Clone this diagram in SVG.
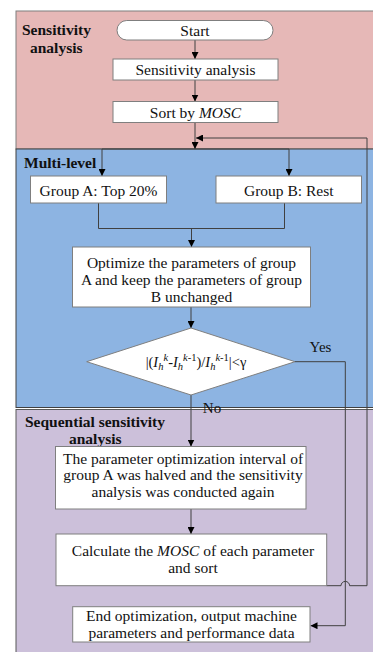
<svg xmlns="http://www.w3.org/2000/svg" width="373" height="652" viewBox="0 0 373 652" font-family="'Liberation Serif', 'DejaVu Serif', 'Times New Roman', serif">
<style>
text{font-family:"Liberation Serif","DejaVu Serif","Times New Roman",serif}
.box{fill:#fff;stroke:#7f7f7f;stroke-width:1}
.t{font-size:15.5px;fill:#111;text-anchor:middle}
.lbl{font-size:15.5px;font-weight:bold;fill:#111}
.c{fill:none;stroke:#404040;stroke-width:1}
.i{font-style:italic}
</style>
<defs>
<marker id="ah" viewBox="0 0 10 10" refX="10" refY="5" markerWidth="7" markerHeight="7" markerUnits="userSpaceOnUse" orient="auto">
<path d="M0,0 L10,5 L0,10 z" fill="#000"/>
</marker>
</defs>
<g id="panels">
<rect x="16" y="11" width="370" height="138" fill="#e6b8b7" stroke="#7f7f7f" stroke-width="1"/>
<rect x="16" y="149" width="370" height="258.5" fill="#8db4e2" stroke="#404040" stroke-width="1"/>
<rect x="16" y="409.5" width="370" height="250" fill="#ccc0da" stroke="#595959" stroke-width="1"/>
<text class="lbl" x="22" y="35">Sensitivity</text>
<text class="lbl" x="30" y="53">analysis</text>
<text class="lbl" x="24" y="168">Multi-level</text>
<text class="lbl" x="25" y="427">Sequential sensitivity</text>
<text class="lbl" x="69" y="443.5">analysis</text>
</g>
<g id="connectors">
<path class="c" d="M195,40 V59" marker-end="url(#ah)"/>
<path class="c" d="M195,80 V101.5" marker-end="url(#ah)"/>
<path class="c" d="M195,122.5 V149" marker-end="url(#ah)"/>
<path class="c" d="M102,149 H289"/>
<path class="c" d="M102,149 V176" marker-end="url(#ah)"/>
<path class="c" d="M289,149 V176" marker-end="url(#ah)"/>
<path class="c" d="M98.5,203 V228.5 H284.5 V203"/>
<path class="c" d="M191.5,228.5 V247" marker-end="url(#ah)"/>
<path class="c" d="M191,307 V328" marker-end="url(#ah)"/>
<path class="c" d="M191,395 V446.5" marker-end="url(#ah)"/>
<path class="c" d="M191,509 V534" marker-end="url(#ah)"/>
<path class="c" d="M295,361.7 H345.3 V625.7 H310.5" marker-end="url(#ah)"/>
<path class="c" d="M326.7,585.7 H341 A4.3,4.3 0 0 1 349.6,585.7 H367 V138 H196" marker-end="url(#ah)"/>
<text class="t" x="320.5" y="351.5" style="font-size:15px">Yes</text>
<text class="t" x="212" y="413" style="font-size:15px">No</text>
</g>
<g id="start">
<rect class="box" x="117" y="20.5" width="156" height="19.5" rx="9.75"/>
<text class="t" x="195" y="36">Start</text>
</g>
<g id="sens">
<rect class="box" x="113" y="59" width="165" height="21"/>
<text class="t" x="195.5" y="75">Sensitivity analysis</text>
</g>
<g id="sort">
<rect class="box" x="113" y="101.5" width="165" height="21"/>
<text class="t" x="195.5" y="117.5">Sort by <tspan class="i">MOSC</tspan></text>
</g>
<g id="groupA">
<rect class="box" x="30.5" y="176" width="136" height="27"/>
<text class="t" x="98.5" y="195.5">Group A: Top 20%</text>
</g>
<g id="groupB">
<rect class="box" x="216" y="176" width="145.5" height="27"/>
<text class="t" x="288.8" y="195.5">Group B: Rest</text>
</g>
<g id="optimize">
<rect class="box" x="72.5" y="247" width="238" height="60"/>
<text class="t" x="191.5" y="267.5">Optimize the parameters of group</text>
<text class="t" x="191.5" y="284.5">A and keep the parameters of group</text>
<text class="t" x="191.5" y="301.5">B unchanged</text>
</g>
<g id="decision">
<polygon points="191,328 295,361.7 191,395 86.7,361.7" fill="#fff" stroke="#7f7f7f" stroke-width="1"/>
<text class="t" x="196" y="366.5" style="font-size:14.5px">|(<tspan class="i">I</tspan><tspan class="i" dy="3" style="font-size:10.5px">h</tspan><tspan class="i" dy="-9" style="font-size:10.5px">k</tspan><tspan dy="6">-</tspan><tspan class="i">I</tspan><tspan class="i" dy="3" style="font-size:10.5px">h</tspan><tspan dy="-9" style="font-size:10.5px"><tspan class="i">k</tspan>-1</tspan><tspan dy="6">)/</tspan><tspan class="i">I</tspan><tspan class="i" dy="3" style="font-size:10.5px">h</tspan><tspan dy="-9" style="font-size:10.5px"><tspan class="i">k</tspan>-1</tspan><tspan dy="6">|&lt;γ</tspan></text>
</g>
<g id="halve">
<rect class="box" x="55.5" y="446.5" width="250.5" height="62.5"/>
<text class="t" x="183" y="463.5">The parameter optimization interval of</text>
<text class="t" x="183" y="480">group A was halved and the sensitivity</text>
<text class="t" x="183" y="496.5">analysis was conducted again</text>
</g>
<g id="calc">
<rect class="box" x="56" y="534" width="270.7" height="51.7"/>
<text class="t" x="193" y="556">Calculate the <tspan class="i">MOSC</tspan> of each parameter</text>
<text class="t" x="193" y="573">and sort</text>
</g>
<g id="end">
<rect class="box" x="72.7" y="606.7" width="237.3" height="35.3"/>
<text class="t" x="191.5" y="621">End optimization, output machine</text>
<text class="t" x="191.5" y="637.5">parameters and performance data</text>
</g>
</svg>
